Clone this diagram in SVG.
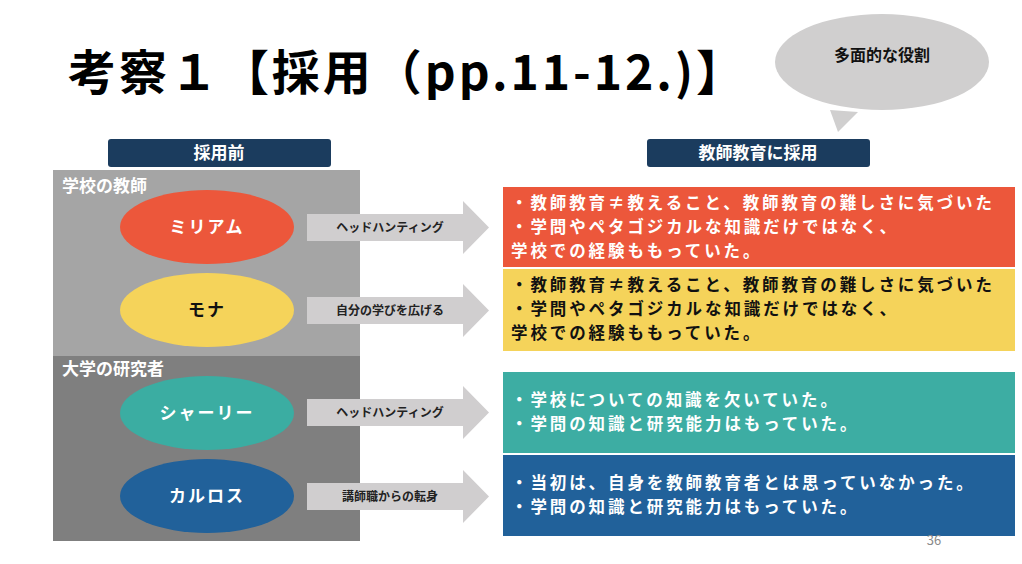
<svg xmlns="http://www.w3.org/2000/svg" width="1022" height="564" viewBox="0 0 1022 564">
<style>
text{font-family:"Noto Sans CJK JP","Noto Sans CJK SC",sans-serif;font-weight:bold}
.hdr{fill:#1b3c5e}
.hdrt{fill:#fff;font-size:17px;text-anchor:middle}
.grpt{fill:#fff;font-size:17px}
.elt{font-size:17px;text-anchor:middle;letter-spacing:2px}
.arr{fill:#d0cecf}
.arrt{fill:#222;font-size:12px;text-anchor:middle}
.bt{font-size:16.5px;letter-spacing:2.9px}
</style>
<rect width="1022" height="564" fill="#fff"/>
<text x="68" y="90" font-size="48" textLength="676" lengthAdjust="spacing" fill="#000">考察１【採用（pp.11-12.)】</text>
<g id="bubble">
<path d="M830,110 L838,132 L858,112 Z" fill="#d0cfcf"/>
<ellipse cx="882" cy="62" rx="107" ry="48" fill="#d0cfcf"/>
<text x="882" y="61" font-size="16" text-anchor="middle" fill="#111">多面的な役割</text>
</g>
<g id="hdr-before"><rect class="hdr" x="108" y="139" width="223" height="28" rx="3"/><text class="hdrt" x="219" y="159">採用前</text></g>
<g id="hdr-after"><rect class="hdr" x="647" y="139" width="223" height="28" rx="3"/><text class="hdrt" x="758" y="159">教師教育に採用</text></g>
<g id="panel-school"><rect x="53" y="170" width="307" height="186" fill="#a5a5a5"/><text class="grpt" x="62" y="192">学校の教師</text></g>
<g id="panel-univ"><rect x="53" y="356" width="307" height="185" fill="#7f7f7f"/><text class="grpt" x="62" y="375">大学の研究者</text></g>
<g id="miriam"><ellipse cx="207" cy="227" rx="87" ry="37" fill="#ec573b"/><text class="elt" x="207" y="233" fill="#fff">ミリアム</text></g>
<g id="mona"><ellipse cx="207" cy="310" rx="87" ry="37" fill="#f5d35a"/><text class="elt" x="207" y="316" fill="#111">モナ</text></g>
<g id="shirley"><ellipse cx="207" cy="413" rx="87" ry="37" fill="#3badA2"/><text class="elt" x="207" y="419" fill="#fff">シャーリー</text></g>
<g id="carlos"><ellipse cx="207" cy="496" rx="87" ry="37" fill="#21619a"/><text class="elt" x="207" y="502" fill="#fff">カルロス</text></g>
<g id="connectors">
<path class="arr" d="M307,214 H463 V201 L489,227.5 L463,254 V241 H307 Z"/>
<text class="arrt" x="390" y="232">ヘッドハンティング</text>
<path class="arr" d="M307,297 H463 V284 L489,310.5 L463,337 V324 H307 Z"/>
<text class="arrt" x="390" y="315">自分の学びを広げる</text>
<path class="arr" d="M307,399 H463 V386 L489,412.5 L463,439 V426 H307 Z"/>
<text class="arrt" x="390" y="417">ヘッドハンティング</text>
<path class="arr" d="M307,483 H463 V470 L489,496.5 L463,523 V510 H307 Z"/>
<text class="arrt" x="390" y="501">講師職からの転身</text>
</g>
<g id="box-miriam"><rect x="503" y="187" width="512" height="80" fill="#ec573b"/>
<text class="bt" fill="#fff"><tspan x="511" y="209">・教師教育≠教えること、教師教育の難しさに気づいた</tspan><tspan x="511" y="233">・学問やペタゴジカルな知識だけではなく、</tspan><tspan x="511" y="257">学校での経験ももっていた。</tspan></text></g>
<g id="box-mona"><rect x="503" y="269" width="512" height="82" fill="#f5d35a"/>
<text class="bt" fill="#111"><tspan x="511" y="291">・教師教育≠教えること、教師教育の難しさに気づいた</tspan><tspan x="511" y="315">・学問やペタゴジカルな知識だけではなく、</tspan><tspan x="511" y="339">学校での経験ももっていた。</tspan></text></g>
<g id="box-shirley"><rect x="503" y="372" width="512" height="81" fill="#3dada3"/>
<text class="bt" fill="#fff"><tspan x="511" y="406">・学校についての知識を欠いていた。</tspan><tspan x="511" y="430">・学問の知識と研究能力はもっていた。</tspan></text></g>
<g id="box-carlos"><rect x="503" y="455" width="512" height="81" fill="#21619a"/>
<text class="bt" fill="#fff"><tspan x="511" y="489">・当初は、自身を教師教育者とは思っていなかった。</tspan><tspan x="511" y="513">・学問の知識と研究能力はもっていた。</tspan></text></g>
<text x="934" y="545" font-size="13" fill="#8a8a8a" style="font-weight:normal" text-anchor="middle">36</text>
</svg>
